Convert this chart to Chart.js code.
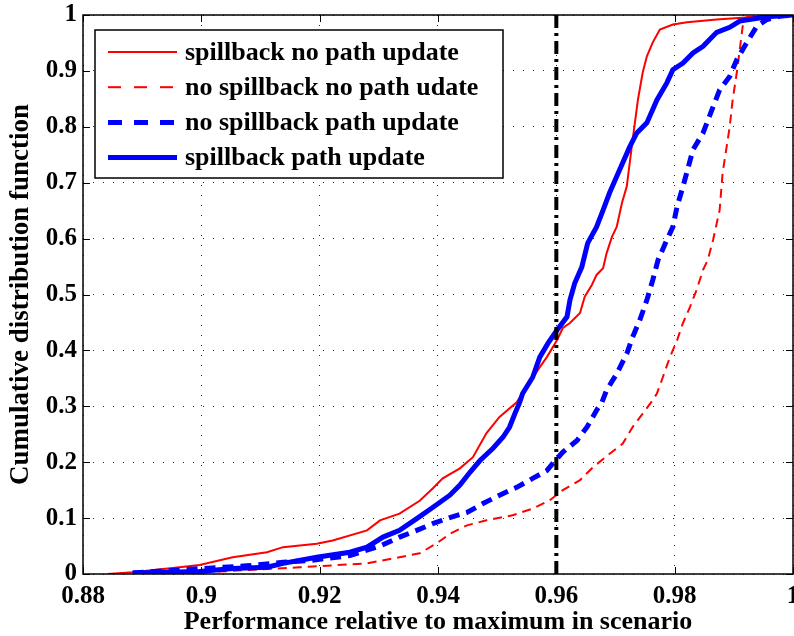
<!DOCTYPE html>
<html>
<head>
<meta charset="utf-8">
<script src="https://cdn.jsdelivr.net/npm/chart.js@4.4.1/dist/chart.umd.min.js"></script>
<style>
  html, body { margin: 0; padding: 0; background: #fff; }
  #wrap { width: 794px; height: 636px; position: relative; }
</style>
</head>
<body>
<div id="wrap"><canvas id="cdfChart" width="794" height="636"></canvas></div>
<script>
const xTicks = [0.88, 0.9, 0.92, 0.94, 0.96, 0.98, 1];
const yTicks = [0, 0.1, 0.2, 0.3, 0.4, 0.5, 0.6, 0.7, 0.8, 0.9, 1];
const seriesLabels = [
  'spillback no path update',
  'no spillback no path udate',
  'no spillback path update',
  'spillback path update'
];
const thresholdX = 0.96;

// [performance, cdf]
const spillNoUpdate = [
  [0.8842, 0], [0.8884, 0.003], [0.8963, 0.012], [0.8997, 0.016], [0.9053, 0.030],
  [0.9111, 0.039], [0.9138, 0.048], [0.9195, 0.054], [0.9222, 0.060], [0.9280, 0.078],
  [0.9302, 0.096], [0.9335, 0.108], [0.9369, 0.131], [0.9391, 0.153], [0.9408, 0.171],
  [0.9437, 0.189], [0.9459, 0.209], [0.9482, 0.252], [0.9504, 0.281], [0.9533, 0.307],
  [0.9572, 0.370], [0.9584, 0.388], [0.9601, 0.418], [0.9611, 0.440], [0.9623, 0.449],
  [0.9640, 0.467], [0.9648, 0.496], [0.9660, 0.517], [0.9668, 0.535], [0.9679, 0.547],
  [0.9685, 0.574], [0.9694, 0.603], [0.9702, 0.621], [0.9711, 0.664], [0.9719, 0.693],
  [0.9729, 0.777], [0.9738, 0.849], [0.9746, 0.897], [0.9753, 0.926], [0.9763, 0.951],
  [0.9775, 0.974], [0.9797, 0.983], [0.9821, 0.987], [0.9871, 0.992], [0.9956, 0.998],
  [1.0, 1.0]
];
const noSpillNoUpdate = [
  [0.8952, 0], [0.9166, 0.012], [0.9280, 0.019], [0.9335, 0.030], [0.9369, 0.037],
  [0.9398, 0.055], [0.9420, 0.072], [0.9449, 0.087], [0.9482, 0.096], [0.9526, 0.105],
  [0.9560, 0.117], [0.9589, 0.132], [0.9611, 0.150], [0.9640, 0.168], [0.9662, 0.191],
  [0.9690, 0.215], [0.9712, 0.233], [0.9729, 0.263], [0.9746, 0.287], [0.9763, 0.311],
  [0.9770, 0.323], [0.9780, 0.352], [0.9792, 0.388], [0.9804, 0.418], [0.9814, 0.449],
  [0.9826, 0.478], [0.9837, 0.508], [0.9848, 0.544], [0.9856, 0.562], [0.9865, 0.598],
  [0.9876, 0.651], [0.9881, 0.717], [0.9893, 0.800], [0.9898, 0.848], [0.9905, 0.897],
  [0.9910, 0.938], [0.9915, 0.980], [0.9922, 0.996], [1.0, 1.0]
];
const noSpillUpdate = [
  [0.8884, 0.002], [0.9082, 0.015], [0.9138, 0.021], [0.9183, 0.024], [0.9251, 0.033],
  [0.9302, 0.050], [0.9335, 0.066], [0.9364, 0.078], [0.9391, 0.090], [0.9420, 0.101],
  [0.9449, 0.110], [0.9476, 0.126], [0.9504, 0.141], [0.9533, 0.155], [0.9560, 0.171],
  [0.9584, 0.185], [0.9594, 0.198], [0.9611, 0.218], [0.9635, 0.239], [0.9652, 0.263],
  [0.9668, 0.293], [0.9677, 0.307], [0.9685, 0.329], [0.9702, 0.358], [0.9719, 0.394],
  [0.9729, 0.424], [0.9741, 0.454], [0.9753, 0.490], [0.9763, 0.526], [0.9772, 0.562],
  [0.9787, 0.598], [0.9797, 0.621], [0.9804, 0.657], [0.9814, 0.693], [0.9831, 0.759],
  [0.9848, 0.789], [0.9865, 0.836], [0.9876, 0.866], [0.9893, 0.890], [0.9905, 0.920],
  [0.9922, 0.951], [0.9939, 0.980], [0.9956, 0.992], [0.9978, 0.998], [1.0, 1.0]
];
const spillUpdate = [
  [0.8884, 0.002], [0.8997, 0.0045], [0.9053, 0.010], [0.9111, 0.012], [0.9138, 0.019],
  [0.9195, 0.030], [0.9251, 0.039], [0.9280, 0.048], [0.9307, 0.066], [0.9335, 0.078],
  [0.9364, 0.099], [0.9391, 0.119], [0.9420, 0.141], [0.9437, 0.159], [0.9454, 0.182],
  [0.9471, 0.203], [0.9493, 0.225], [0.9510, 0.245], [0.9521, 0.263], [0.9530, 0.287],
  [0.9538, 0.307], [0.9543, 0.323], [0.9560, 0.352], [0.9572, 0.388], [0.9586, 0.413],
  [0.9601, 0.436], [0.9618, 0.460], [0.9623, 0.490], [0.9631, 0.520], [0.9643, 0.549],
  [0.9653, 0.592], [0.9668, 0.621], [0.9679, 0.651], [0.9690, 0.682], [0.9707, 0.723],
  [0.9724, 0.764], [0.9736, 0.789], [0.9753, 0.807], [0.9770, 0.848], [0.9787, 0.879],
  [0.9797, 0.902], [0.9814, 0.914], [0.9831, 0.932], [0.9848, 0.944], [0.9871, 0.969],
  [0.9893, 0.978], [0.9910, 0.989], [0.9956, 0.997], [1.0, 1.0]
];

const FONT = '"Liberation Serif", "Times New Roman", serif';
const toXY = arr => arr.map(p => ({ x: p[0], y: p[1] }));

// box + inward ticks, matlab style
const framePlugin = {
  id: 'frame',
  afterDatasetsDraw(chart) {
    const { ctx, chartArea: a, scales } = chart;
    ctx.save();
    ctx.strokeStyle = '#000';
    ctx.lineWidth = 1.5;
    ctx.setLineDash([]);
    ctx.strokeRect(a.left, a.top, a.right - a.left, a.bottom - a.top);
    ctx.lineWidth = 1;
    ctx.beginPath();
    xTicks.forEach(v => {
      const px = Math.round(scales.x.getPixelForValue(v)) + 0.5;
      ctx.moveTo(px, a.bottom); ctx.lineTo(px, a.bottom - 7);
      ctx.moveTo(px, a.top); ctx.lineTo(px, a.top + 7);
    });
    yTicks.forEach(v => {
      const py = Math.round(scales.y.getPixelForValue(v)) + 0.5;
      ctx.moveTo(a.left, py); ctx.lineTo(a.left + 7, py);
      ctx.moveTo(a.right, py); ctx.lineTo(a.right - 7, py);
    });
    ctx.stroke();
    ctx.restore();
  }
};

const legendBox = {
  id: 'legendBox',
  afterDraw(chart) {
    const ctx = chart.ctx;
    const x0 = 95, y0 = 30, w = 408, h = 148;
    ctx.save();
    ctx.fillStyle = '#fff';
    ctx.fillRect(x0, y0, w, h);
    ctx.strokeStyle = '#000';
    ctx.lineWidth = 1.5;
    ctx.strokeRect(x0, y0, w, h);
    const items = chart.data.datasets.filter(d => d.label);
    items.sort((p, q) => p.legendRow - q.legendRow);
    items.forEach((d, i) => {
      const cy = 52 + i * 35.2;
      ctx.beginPath();
      ctx.strokeStyle = d.borderColor;
      ctx.lineWidth = d.borderWidth;
      ctx.setLineDash(d.legendDash || []);
      ctx.moveTo(108, cy);
      ctx.lineTo(177, cy);
      ctx.stroke();
      ctx.setLineDash([]);
      ctx.fillStyle = '#000';
      ctx.font = 'bold 26px ' + FONT;
      ctx.textBaseline = 'middle';
      ctx.fillText(d.label, 185, cy + 1);
    });
    ctx.restore();
  }
};

new Chart(document.getElementById('cdfChart'), {
  type: 'line',
  data: {
    datasets: [
      {
        label: '', data: [{ x: thresholdX, y: 1 }, { x: thresholdX, y: 0 }],
        borderColor: '#000', borderWidth: 4, borderDash: [13, 5, 3, 5], order: 0
      },
      {
        label: seriesLabels[3], data: toXY(spillUpdate), legendRow: 3,
        borderColor: '#0000ff', borderWidth: 5, order: 1
      },
      {
        label: seriesLabels[2], data: toXY(noSpillUpdate), legendRow: 2,
        borderColor: '#0000ff', borderWidth: 5, borderDash: [11, 7], legendDash: [14, 12], order: 2
      },
      {
        label: seriesLabels[1], data: toXY(noSpillNoUpdate), legendRow: 1,
        borderColor: '#ff0000', borderWidth: 2, borderDash: [9, 6], legendDash: [13, 13], order: 3
      },
      {
        label: seriesLabels[0], data: toXY(spillNoUpdate), legendRow: 0,
        borderColor: '#ff0000', borderWidth: 2, order: 4
      }
    ]
  },
  options: {
    responsive: false,
    animation: false,
    events: [],
    elements: { point: { radius: 0 }, line: { tension: 0, borderCapStyle: 'butt' } },
    layout: { padding: { top: 15, right: 1, left: 0, bottom: 0 } },
    plugins: { legend: { display: false }, tooltip: { enabled: false } },
    scales: {
      x: {
        type: 'linear', min: 0.88, max: 1,
        afterBuildTicks(s) { s.ticks = xTicks.map(v => ({ value: v })); },
        afterFit(s) { s.height = 62; s.paddingLeft = 0; s.paddingRight = 0; },
        ticks: {
          autoSkip: false, maxRotation: 0, padding: 8, color: '#000',
          font: { family: FONT, size: 25, weight: 'bold' },
          callback: v => String(Number(v.toFixed(2)))
        },
        grid: { color: 'rgba(0,0,0,0.85)', lineWidth: 1, drawTicks: false },
        border: { display: false, dash: [1, 9] },
        title: {
          display: true, text: 'Performance relative to maximum in scenario', color: '#000',
          font: { family: FONT, size: 26, weight: 'bold', lineHeight: 1 },
          padding: { top: 0, bottom: 1 }
        }
      },
      y: {
        type: 'linear', min: 0, max: 1,
        afterBuildTicks(s) { s.ticks = yTicks.map(v => ({ value: v })); },
        afterFit(s) { s.width = 83; s.paddingTop = 0; s.paddingBottom = 0; },
        ticks: {
          autoSkip: false, padding: 6, color: '#000',
          font: { family: FONT, size: 25, weight: 'bold' },
          callback: v => String(Number(v.toFixed(1)))
        },
        grid: { color: 'rgba(0,0,0,0.85)', lineWidth: 1, drawTicks: false },
        border: { display: false, dash: [1, 9] },
        title: {
          display: true, text: 'Cumulative distribution function', color: '#000',
          font: { family: FONT, size: 27, weight: 'bold', lineHeight: 1 },
          padding: { top: 8, bottom: 0 }
        }
      }
    }
  },
  plugins: [framePlugin, legendBox]
});
</script>
</body>
</html>
